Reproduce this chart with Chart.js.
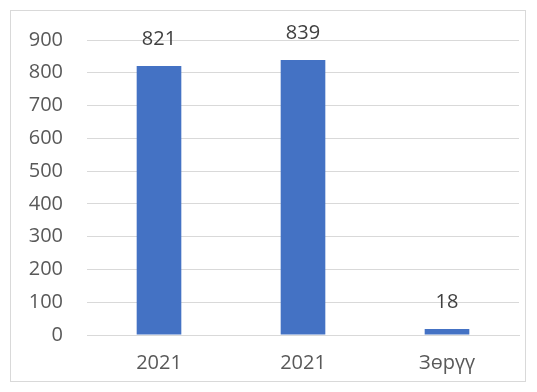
<!DOCTYPE html>
<html><head><meta charset="utf-8">
<script src="https://cdn.jsdelivr.net/npm/chart.js@4/dist/chart.umd.min.js"></script>
<style>html,body{margin:0;padding:0;background:#fff}#w{width:537px;height:392px}</style>
</head><body><div id="w"><canvas id="c" width="537" height="392"></canvas></div>
<script>
const categories = ["2021", "2021", "Зөрүү"];
const values = [821, 839, 18];
const yTicks = [0, 100, 200, 300, 400, 500, 600, 700, 800, 900];

const FONT = "'Open Sans', 'Liberation Sans', sans-serif";
const FS = 20;

const frame = {
  id: 'frame',
  beforeDraw(chart) {
    const ctx = chart.ctx;
    ctx.save();
    ctx.fillStyle = '#fff';
    ctx.fillRect(0, 0, chart.width, chart.height);
    ctx.strokeStyle = '#d9d9d9';
    ctx.lineWidth = 1;
    ctx.strokeRect(10.5, 10.5, 515, 371);
    ctx.restore();
  }
};
const labels = {
  id: 'labels',
  afterDatasetsDraw(chart) {
    const ctx = chart.ctx;
    const meta = chart.getDatasetMeta(0);
    ctx.save();
    ctx.fillStyle = '#404040';
    ctx.font = FS + "px " + FONT;
    ctx.textAlign = 'center';
    ctx.textBaseline = 'middle';
    meta.data.forEach((bar, i) => {
      ctx.fillText(String(values[i]), bar.x, bar.y - 27);
    });
    ctx.restore();
  }
};

new Chart(document.getElementById('c'), {
  type: 'bar',
  data: { labels: categories, datasets: [{ data: values, backgroundColor: '#4472c4', categoryPercentage: 1, barPercentage: 0.31 }] },
  options: {
    responsive: false, animation: false, devicePixelRatio: 1,
    layout: { padding: { top: 40, right: 18, left: 0, bottom: 0 } },
    plugins: { legend: { display: false }, tooltip: { enabled: false } },
    scales: {
      x: {
        grid: { display: false, drawTicks: false },
        border: { display: true, color: '#d9d9d9' },
        ticks: { color: '#595959', font: { family: FONT, size: FS }, padding: 16, maxRotation: 0 },
        afterFit(s) { s.height = 57; }
      },
      y: {
        min: 0, max: 900,
        afterBuildTicks(s) { s.ticks = yTicks.map(v => ({ value: v })); },
        grid: { color: '#d9d9d9', drawTicks: false },
        border: { display: false },
        ticks: { color: '#595959', font: { family: FONT, size: FS }, padding: 24 },
        afterFit(s) { s.width = 87; }
      }
    }
  },
  plugins: [frame, labels]
});
</script></body></html>
